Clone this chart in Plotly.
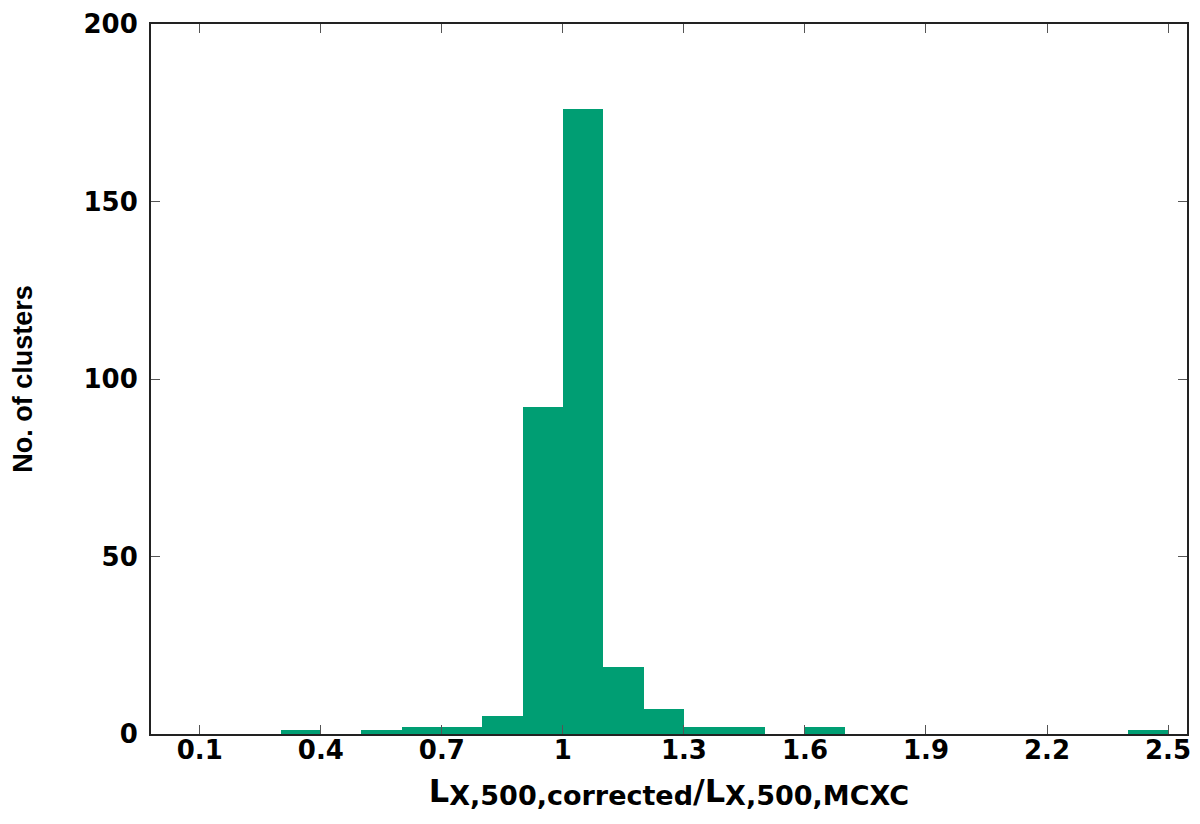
import plotly.graph_objects as go

# Histogram data (bin left edges, width 0.1)
bin_left = [0.3, 0.5, 0.6, 0.7, 0.8, 0.9, 1.0, 1.1, 1.2, 1.3, 1.4, 1.6, 2.4]
counts = [1, 1, 2, 2, 5, 92, 176, 19, 7, 2, 2, 2, 1]
bin_width = 0.1

x_tickvals = [0.1, 0.4, 0.7, 1.0, 1.3, 1.6, 1.9, 2.2, 2.5]
x_ticktext = ["0.1", "0.4", "0.7", "1", "1.3", "1.6", "1.9", "2.2", "2.5"]
y_tickvals = [0, 50, 100, 150, 200]

GREEN = "#009E73"
WIDE = "DejaVu Sans, Liberation Sans, Arial, sans-serif"
NARROW = "Liberation Sans, Arial, Helvetica, sans-serif"

fig = go.Figure()
fig.add_trace(go.Bar(
    x=bin_left,
    y=counts,
    width=[bin_width] * len(bin_left),
    offset=0,
    marker=dict(color=GREEN, line=dict(width=0)),
    showlegend=False,
))

sub = "<span style='font-size:27px;baseline-shift:-3px'>"
xtitle = ("L" + sub + "X,500,corrected</span>/L" + sub + "X,500,MCXC</span>")

fig.update_layout(
    width=1192, height=816,
    margin=dict(l=143, r=13, t=16, b=90, autoexpand=False),
    paper_bgcolor="white", plot_bgcolor="white",
    font=dict(family=WIDE, size=26, color="black", weight="bold"),
    bargap=0,
    xaxis=dict(
        range=[-0.021, 2.547],
        tickmode="array", tickvals=x_tickvals, ticktext=x_ticktext,
        ticks="inside", ticklen=9, tickwidth=1, tickcolor="#555",
        showline=True, linecolor="#222", linewidth=2, mirror="ticks",
        showgrid=False, zeroline=False,
        tickfont=dict(family=WIDE, size=26, weight="bold"),
        ticklabelstandoff=-8,
        title=dict(text=xtitle, font=dict(family=WIDE, size=32, weight="bold"), standoff=15),
    ),
    yaxis=dict(
        range=[0, 200],
        tickmode="array", tickvals=y_tickvals,
        ticks="inside", ticklen=9, tickwidth=1, tickcolor="#555",
        showline=True, linecolor="#222", linewidth=2, mirror="ticks",
        showgrid=False, zeroline=False,
        tickfont=dict(family=WIDE, size=26, weight="bold"),
        ticklabelstandoff=6,
        ticklabeloverflow="allow",
        title=dict(text="No. of clusters", font=dict(family=NARROW, size=27, weight="bold"), standoff=54),
    ),
)

fig.write_html("out.html")
